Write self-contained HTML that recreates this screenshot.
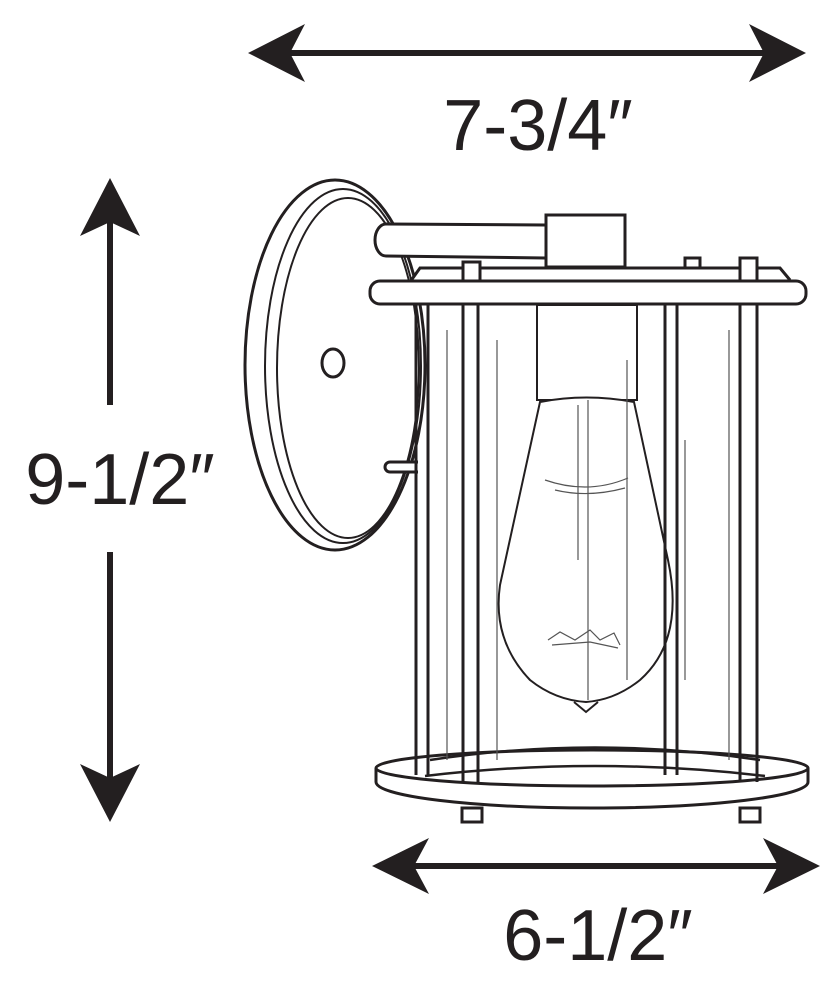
<!DOCTYPE html>
<html><head><meta charset="utf-8"><style>
html,body{margin:0;padding:0;background:#fff;}
svg{display:block;}
text{font-family:"Liberation Sans",sans-serif;fill:#231f20;}
</style></head><body>
<svg width="840" height="990" viewBox="0 0 840 990" xmlns="http://www.w3.org/2000/svg">
<g fill="#231f20" stroke="none">
 <rect x="290" y="50" width="475" height="6"/>
 <path d="M248,53 L305,24 L290,53 L305,82 Z"/>
 <path d="M806,53 L749,24 L764,53 L749,82 Z"/>
 <rect x="107" y="220" width="6" height="185"/>
 <rect x="107" y="552" width="6" height="230"/>
 <path d="M110,178 L80,236 L110,222 L140,236 Z"/>
 <path d="M110,822 L80,764 L110,778 L140,764 Z"/>
 <rect x="410" y="863" width="372" height="6"/>
 <path d="M372,866 L429,838 L414,866 L429,894 Z"/>
 <path d="M820,866 L763,838 L778,866 L763,894 Z"/>
</g>
<text x="538" y="150" font-size="72" text-anchor="middle">7-3/4″</text>
<text x="120" y="504" font-size="72" text-anchor="middle">9-1/2″</text>
<text x="598" y="960" font-size="72" text-anchor="middle">6-1/2″</text>

<g fill="none" stroke="#231f20" stroke-width="3">
 <ellipse cx="335" cy="365" rx="90" ry="185" fill="#fff"/>
 <ellipse cx="343" cy="366" rx="78" ry="177" stroke-width="2"/>
 <ellipse cx="348" cy="368" rx="71" ry="170" stroke-width="2"/>
 <ellipse cx="333" cy="363" rx="11" ry="14"/>
 <path d="M418,462 L390,462 A5,5 0 0 0 390,472 L418,472" fill="#fff"/>
 <path d="M545,225 L386,224 A11,16 0 0 0 386,256 L545,258" fill="#fff"/>
 <rect x="546" y="215" width="79" height="52" fill="#fff"/>
 <path d="M410,282 L420,268 L780,268 L790,280" fill="#fff"/>
 <rect x="463" y="262" width="17" height="22" fill="#fff"/>
 <rect x="685" y="258" width="15" height="10" fill="#fff"/>
 <rect x="740" y="258" width="17" height="24" fill="#fff"/>
 <rect x="370" y="281" width="436" height="23" rx="10" fill="#fff"/>
 <rect x="537" y="305" width="100" height="95" stroke-width="2"/>
 <path d="M540,402 Q586,393 634,402 L668,560 Q685,640 640,680 Q615,700 586,702 Q555,700 530,680 Q492,640 500,585 Z" fill="#fff" stroke-width="2"/>
 <path d="M574,702 L586,712 L598,702" stroke-width="2"/>
 <path d="M416,305 V775 M428,305 V775 M463,305 V782 M478,305 V782 M665,305 V775 M677,305 V775 M740,305 V782 M757,305 V782"/>
 <path d="M430,760 Q595,735 760,760" stroke-width="2.5"/>
 <path d="M425,776 Q595,756 765,776" stroke-width="2.5"/>
 <path d="M376,768 A216,18 0 0 1 808,768 L808,782 A216,26 0 0 1 376,782 Z"/>
 <path d="M376,768 A216,18 0 0 0 808,768"/>
 <rect x="462" y="808" width="20" height="14" fill="#fff"/>
 <rect x="740" y="808" width="20" height="14" fill="#fff"/>
</g>
<g fill="none" stroke="#555" stroke-width="1.2">
 <path d="M447,330 V760 M497,340 V760 M627,360 V680 M685,440 V680 M729,330 V760 M588,400 V700 M578,405 V560"/>
 <path d="M545,480 Q588,495 628,478 M555,490 Q588,498 625,488"/>
 <path d="M548,640 L560,632 L575,640 L590,630 L600,640 L614,633 L620,645 M552,645 L590,642 L618,648"/>
</g>
</svg>
</body></html>
